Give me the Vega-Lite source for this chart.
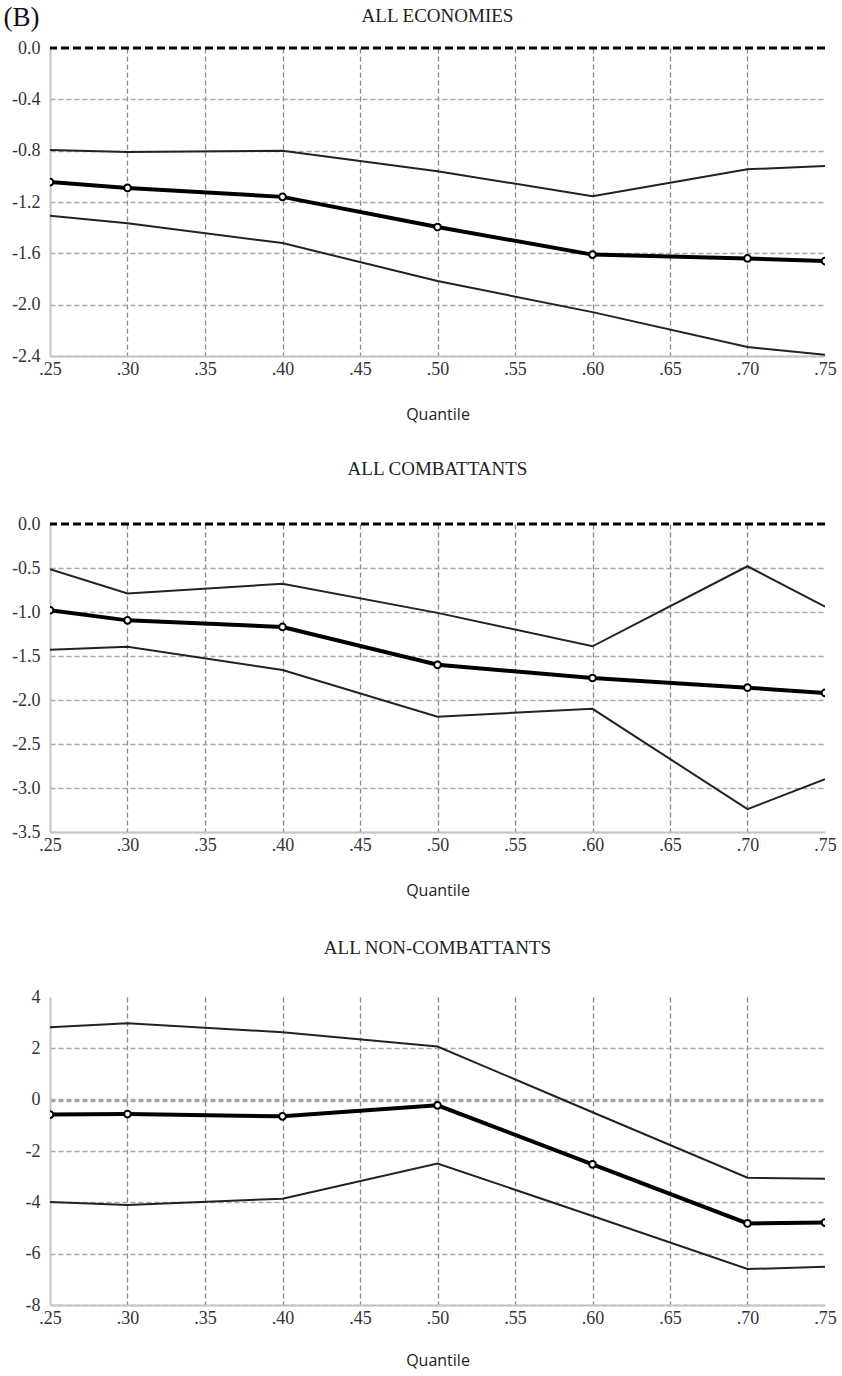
{
  "$schema": "https://vega.github.io/schema/vega-lite/v6.json",
  "background": "white",
  "padding": {"left": 3, "top": 4, "right": 0, "bottom": 5},
  "title": {"text": "(B)", "anchor": "start", "frame": "bounds", "font": "Liberation Serif", "fontSize": 27, "fontWeight": "normal", "color": "#111", "offset": -25, "dx": -8},
  "datasets": {
    "d": [
      {"panel": "econ", "q": 0.25, "est": -1.045, "lo": -1.307, "hi": -0.795},
      {"panel": "econ", "q": 0.30, "est": -1.09, "lo": -1.366, "hi": -0.81},
      {"panel": "econ", "q": 0.40, "est": -1.16, "lo": -1.52, "hi": -0.80},
      {"panel": "econ", "q": 0.50, "est": -1.395, "lo": -1.816, "hi": -0.96},
      {"panel": "econ", "q": 0.60, "est": -1.61, "lo": -2.058, "hi": -1.155},
      {"panel": "econ", "q": 0.70, "est": -1.64, "lo": -2.33, "hi": -0.945},
      {"panel": "econ", "q": 0.75, "est": -1.66, "lo": -2.39, "hi": -0.92},
      {"panel": "comb", "q": 0.25, "est": -0.98, "lo": -1.43, "hi": -0.515},
      {"panel": "comb", "q": 0.30, "est": -1.095, "lo": -1.395, "hi": -0.79},
      {"panel": "comb", "q": 0.40, "est": -1.17, "lo": -1.66, "hi": -0.68},
      {"panel": "comb", "q": 0.50, "est": -1.60, "lo": -2.19, "hi": -1.01},
      {"panel": "comb", "q": 0.60, "est": -1.75, "lo": -2.10, "hi": -1.39},
      {"panel": "comb", "q": 0.70, "est": -1.86, "lo": -3.24, "hi": -0.48},
      {"panel": "comb", "q": 0.75, "est": -1.92, "lo": -2.90, "hi": -0.94},
      {"panel": "non", "q": 0.25, "est": -0.58, "lo": -3.99, "hi": 2.82},
      {"panel": "non", "q": 0.30, "est": -0.56, "lo": -4.10, "hi": 2.98},
      {"panel": "non", "q": 0.40, "est": -0.65, "lo": -3.86, "hi": 2.63},
      {"panel": "non", "q": 0.50, "est": -0.22, "lo": -2.49, "hi": 2.07},
      {"panel": "non", "q": 0.60, "est": -2.52, "lo": -4.53, "hi": -0.49},
      {"panel": "non", "q": 0.70, "est": -4.82, "lo": -6.60, "hi": -3.04},
      {"panel": "non", "q": 0.75, "est": -4.79, "lo": -6.51, "hi": -3.08}
    ],
    "zero": [{"v": 0}]
  },
  "spacing": 38,
  "config": {
    "view": {"stroke": null},
    "font": "Liberation Serif",
    "title": {"font": "Liberation Serif", "fontSize": 19, "fontWeight": "normal", "color": "#222", "offset": 22},
    "axis": {
      "ticks": false,
      "labelFlush": false,
      "domainColor": "#c4c4c4",
      "domainWidth": 2,
      "labelFont": "Liberation Serif",
      "labelFontSize": 18,
      "labelColor": "#333",
      "grid": true,
      "gridDash": [5, 3],
      "gridWidth": 1.3
    },
    "axisX": {"labelPadding": 4, "gridColor": "#888888", "titleFont": "Open Sans", "titleFontSize": 16, "titleFontWeight": "normal", "titleColor": "#222", "titlePadding": 28},
    "axisY": {"labelPadding": 10, "gridColor": "#a6a6a6"}
  },
  "vconcat": [
    {
      "width": 775, "height": 308,
      "title": {"text": "ALL ECONOMIES", "offset": 13},
      "layer": [
        {
          "data": {"name": "zero"},
          "mark": {"type": "rule", "color": "black", "strokeWidth": 3, "strokeDash": [8, 4]},
          "encoding": {
            "y": {"field": "v", "type": "quantitative", "title": null,
                  "scale": {"domain": [-2.4, 0], "nice": false, "zero": false},
                  "axis": {"values": [0, -0.4, -0.8, -1.2, -1.6, -2.0, -2.4], "labelExpr": "replace(format(datum.value, '.1f'), '\u2212', '-')",
                           "gridOpacity": {"condition": {"test": "datum.value > -0.01", "value": 0}, "value": 1}}}
          }
        },
        {
          "data": {"name": "d"},
          "transform": [{"filter": "datum.panel == 'econ'"}],
          "encoding": {
            "x": {"field": "q", "type": "quantitative", "title": "Quantile",
                  "scale": {"domain": [0.25, 0.75], "nice": false, "zero": false},
                  "axis": {"values": [0.25, 0.3, 0.35, 0.4, 0.45, 0.5, 0.55, 0.6, 0.65, 0.7, 0.75], "labelExpr": "substring(format(datum.value, '.2f'), 1)",
                           "gridOpacity": {"condition": {"test": "datum.value < 0.26 || datum.value > 0.74", "value": 0}, "value": 1}}}
          },
          "layer": [
            {"mark": {"type": "line", "color": "#222", "strokeWidth": 2, "clip": true}, "encoding": {"y": {"field": "hi", "type": "quantitative", "title": null}}},
            {"mark": {"type": "line", "color": "#222", "strokeWidth": 2, "clip": true}, "encoding": {"y": {"field": "lo", "type": "quantitative", "title": null}}},
            {"mark": {"type": "line", "color": "black", "strokeWidth": 4, "clip": true}, "encoding": {"y": {"field": "est", "type": "quantitative", "title": null}}},
            {"mark": {"type": "point", "filled": true, "fill": "white", "stroke": "black", "strokeWidth": 2, "size": 45, "opacity": 1, "clip": true}, "encoding": {"y": {"field": "est", "type": "quantitative", "title": null}}}
          ]
        }
      ]
    },
    {
      "spacing": 41,
      "vconcat": [
        {
          "width": 775, "height": 308,
          "title": {"text": "ALL COMBATTANTS", "offset": 36},
          "layer": [
            {
              "data": {"name": "zero"},
              "mark": {"type": "rule", "color": "black", "strokeWidth": 3, "strokeDash": [8, 4]},
              "encoding": {
                "y": {"field": "v", "type": "quantitative", "title": null,
                      "scale": {"domain": [-3.5, 0], "nice": false, "zero": false},
                      "axis": {"values": [0, -0.5, -1.0, -1.5, -2.0, -2.5, -3.0, -3.5], "labelExpr": "replace(format(datum.value, '.1f'), '\u2212', '-')",
                               "gridOpacity": {"condition": {"test": "datum.value > -0.01", "value": 0}, "value": 1}}}
              }
            },
            {
              "data": {"name": "d"},
              "transform": [{"filter": "datum.panel == 'comb'"}],
              "encoding": {
                "x": {"field": "q", "type": "quantitative", "title": "Quantile",
                      "scale": {"domain": [0.25, 0.75], "nice": false, "zero": false},
                      "axis": {"values": [0.25, 0.3, 0.35, 0.4, 0.45, 0.5, 0.55, 0.6, 0.65, 0.7, 0.75], "labelExpr": "substring(format(datum.value, '.2f'), 1)",
                               "gridOpacity": {"condition": {"test": "datum.value < 0.26 || datum.value > 0.74", "value": 0}, "value": 1}}}
              },
              "layer": [
                {"mark": {"type": "line", "color": "#222", "strokeWidth": 2, "clip": true}, "encoding": {"y": {"field": "hi", "type": "quantitative", "title": null}}},
                {"mark": {"type": "line", "color": "#222", "strokeWidth": 2, "clip": true}, "encoding": {"y": {"field": "lo", "type": "quantitative", "title": null}}},
                {"mark": {"type": "line", "color": "black", "strokeWidth": 4, "clip": true}, "encoding": {"y": {"field": "est", "type": "quantitative", "title": null}}},
                {"mark": {"type": "point", "filled": true, "fill": "white", "stroke": "black", "strokeWidth": 2, "size": 45, "opacity": 1, "clip": true}, "encoding": {"y": {"field": "est", "type": "quantitative", "title": null}}}
              ]
            }
          ]
        },
        {
          "width": 775, "height": 308,
          "title": {"text": "ALL NON-COMBATTANTS", "offset": 30},
          "data": {"name": "d"},
          "transform": [{"filter": "datum.panel == 'non'"}],
          "encoding": {
            "x": {"field": "q", "type": "quantitative", "title": "Quantile",
                  "scale": {"domain": [0.25, 0.75], "nice": false, "zero": false},
                  "axis": {"values": [0.25, 0.3, 0.35, 0.4, 0.45, 0.5, 0.55, 0.6, 0.65, 0.7, 0.75], "labelExpr": "substring(format(datum.value, '.2f'), 1)",
                           "titlePadding": 25,
                           "gridOpacity": {"condition": {"test": "datum.value < 0.26 || datum.value > 0.74", "value": 0}, "value": 1}}}
          },
          "layer": [
            {"mark": {"type": "line", "color": "#222", "strokeWidth": 2, "clip": true},
             "encoding": {"y": {"field": "hi", "type": "quantitative", "title": null,
                                "scale": {"domain": [-8, 4], "nice": false, "zero": false},
                                "axis": {"values": [4, 2, 0, -2, -4, -6, -8], "labelExpr": "replace(format(datum.value, 'd'), '\u2212', '-')",
                                         "gridOpacity": {"condition": {"test": "datum.value > 3", "value": 0}, "value": 1},
                                         "gridWidth": {"condition": {"test": "datum.value == 0", "value": 3.5}, "value": 1.3}}}}},
            {"mark": {"type": "line", "color": "#222", "strokeWidth": 2, "clip": true}, "encoding": {"y": {"field": "lo", "type": "quantitative", "title": null}}},
            {"mark": {"type": "line", "color": "black", "strokeWidth": 4, "clip": true}, "encoding": {"y": {"field": "est", "type": "quantitative", "title": null}}},
            {"mark": {"type": "point", "filled": true, "fill": "white", "stroke": "black", "strokeWidth": 2, "size": 45, "opacity": 1, "clip": true}, "encoding": {"y": {"field": "est", "type": "quantitative", "title": null}}}
          ]
        }
      ]
    }
  ]
}
